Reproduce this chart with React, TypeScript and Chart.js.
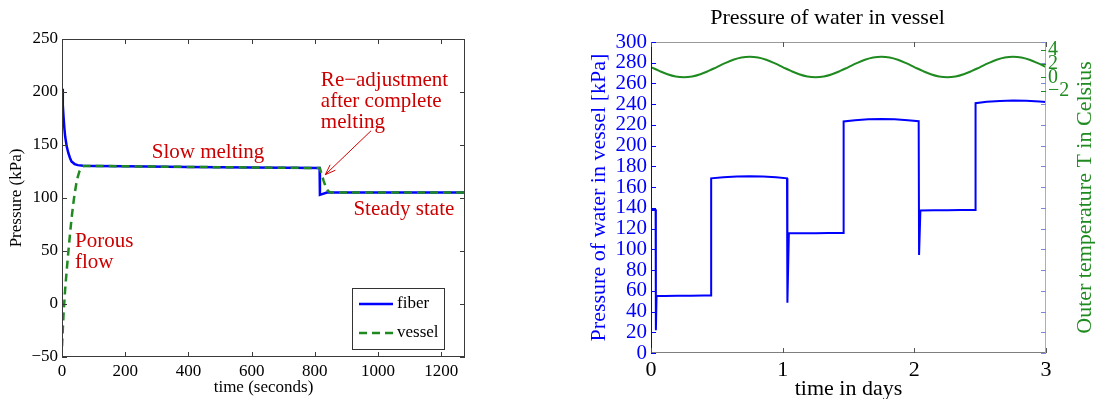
import React, { useEffect, useRef } from "react";
import { Chart, registerables } from "chart.js";

Chart.register(...registerables);

const SERIF = "'Liberation Serif', 'Times New Roman', Times, serif";
const BLUE = "#0000ff";
const GREEN = "#1f8a1f";
const RED = "#cc0000";

// ===== Left panel: pressure in fiber and vessel over time (seconds) =====
const fiberTime = [0, 2.5, 5, 7.5, 10, 15, 20, 25, 30, 40, 50, 67, 100, 200, 400, 600, 815, 816, 838, 1000, 1275];
const fiberPressure = [203, 188, 176, 166, 158, 148.5, 142.5, 138, 134.5, 132, 131, 130.5, 130.3, 129.9, 129.3, 128.8, 128.3, 103, 105.2, 105.2, 105.2];
const vesselTime = [0, 2.5, 5, 10, 15, 20, 25, 30, 35, 40, 45, 50, 55, 60, 70, 80, 100, 200, 400, 600, 815, 820, 828, 835, 842, 850, 1000, 1275];
const vesselPressure = [-40, -24, -9, 14, 32, 49, 65, 80, 93, 104, 113, 120, 125, 128, 130.2, 130.3, 130.3, 129.9, 129.3, 128.8, 128.3, 124, 116, 110, 106.5, 105.2, 105.2, 105.2];
const leftTimeTicks = [0, 200, 400, 600, 800, 1000, 1200];
const leftPressureTicks = [-50, 0, 50, 100, 150, 200, 250];
const seriesNames = ["fiber", "vessel"];
const noteLines = [["Porous", "flow"], ["Slow melting"], ["Re\u2212adjustment", "after complete", "melting"], ["Steady state"]];
const noteTime = [41, 284, 819, 922];
const notePressure = [59, 142.5, 210.5, 89];
const arrowTime = [978, 833];
const arrowPressure = [163.5, 122];

// ===== Right panel: pressure of water in vessel over days, outer temperature =====
const pressureDays = [0, 0.035, 0.037, 0.042, 0.1, 0.2, 0.3, 0.4, 0.456, 0.457, 0.55, 0.65, 0.75, 0.85, 0.95, 1.033, 1.036, 1.047, 1.15, 1.25, 1.35, 1.462, 1.463, 1.55, 1.65, 1.75, 1.85, 1.95, 2.033, 2.036, 2.046, 2.15, 2.25, 2.35, 2.464, 2.465, 2.55, 2.65, 2.75, 2.85, 2.95, 3.0];
const pressureKPa = [138, 138, 22, 55, 55, 55.2, 55.3, 55.4, 55.5, 168.5, 169.6, 170.3, 170.5, 170.3, 169.6, 168.5, 48.5, 115.5, 115.5, 115.6, 115.7, 115.8, 223.4, 224.6, 225.4, 225.7, 225.4, 224.6, 223.6, 94.5, 137.5, 137.7, 137.8, 137.9, 138, 241, 242.3, 243.1, 243.5, 243.3, 242.6, 242];
const tempDays = [
  0, 0.0625, 0.125, 0.1875, 0.25, 0.3125, 0.375, 0.4375, 0.5, 0.5625, 0.625, 0.6875, 0.75, 0.8125, 0.875, 0.9375,
  1, 1.0625, 1.125, 1.1875, 1.25, 1.3125, 1.375, 1.4375, 1.5, 1.5625, 1.625, 1.6875, 1.75, 1.8125, 1.875, 1.9375,
  2, 2.0625, 2.125, 2.1875, 2.25, 2.3125, 2.375, 2.4375, 2.5, 2.5625, 2.625, 2.6875, 2.75, 2.8125, 2.875, 2.9375, 3,
];
const tempCelsius = [
  1.5, 0.93, 0.44, 0.11, 0, 0.11, 0.44, 0.93, 1.5, 2.07, 2.56, 2.89, 3.0, 2.89, 2.56, 2.07,
  1.5, 0.93, 0.44, 0.11, 0, 0.11, 0.44, 0.93, 1.5, 2.07, 2.56, 2.89, 3.0, 2.89, 2.56, 2.07,
  1.5, 0.93, 0.44, 0.11, 0, 0.11, 0.44, 0.93, 1.5, 2.07, 2.56, 2.89, 3.0, 2.89, 2.56, 2.07, 1.5,
];
const dayTicks = [0, 1, 2, 3];
const pressureTicks = [0, 20, 40, 60, 80, 100, 120, 140, 160, 180, 200, 220, 240, 260, 280, 300];
const tempTicks = [4, 2, 0, -2];

const plain = (v: number) => String(v).replace("-", "\u2212");
const toPoints = (xs: number[], ys: number[]) => xs.map((x, i) => ({ x, y: ys[i] }));
const fixedTicks = (values: number[]) => (scale: any) => {
  scale.ticks = values.map((v) => ({ value: v }));
};
const fixWidth = (w: number) => (scale: any) => {
  scale.width = w;
  scale.paddingTop = 0;
  scale.paddingBottom = 0;
};
const fixHeight = (h: number) => (scale: any) => {
  scale.height = h;
  scale.paddingLeft = 0;
  scale.paddingRight = 0;
};

const leftDecor = {
  id: "leftDecor",
  afterDatasetsDraw(chart: any) {
    const { ctx, chartArea: a, scales } = chart;
    const x = scales.x;
    const y = scales.y;
    ctx.save();
    ctx.strokeStyle = "#3a3a3a";
    ctx.lineWidth = 1;
    ctx.strokeRect(a.left + 0.5, a.top + 0.5, a.right - a.left - 1, a.bottom - a.top - 1);
    ctx.beginPath();
    for (const v of leftTimeTicks) {
      const px = Math.round(x.getPixelForValue(v)) + 0.5;
      ctx.moveTo(px, a.bottom);
      ctx.lineTo(px, a.bottom - 5);
      ctx.moveTo(px, a.top);
      ctx.lineTo(px, a.top + 5);
    }
    for (const v of leftPressureTicks) {
      const py = Math.round(y.getPixelForValue(v)) + 0.5;
      ctx.moveTo(a.left, py);
      ctx.lineTo(a.left + 5, py);
      ctx.moveTo(a.right, py);
      ctx.lineTo(a.right - 5, py);
    }
    ctx.stroke();

    // annotations
    ctx.fillStyle = RED;
    ctx.font = `21px ${SERIF}`;
    ctx.textAlign = "left";
    ctx.textBaseline = "middle";
    noteLines.forEach((lines, i) => {
      const px = x.getPixelForValue(noteTime[i]);
      const py = y.getPixelForValue(notePressure[i]);
      lines.forEach((t, j) => ctx.fillText(t, px, py + j * 21));
    });
    const x0 = x.getPixelForValue(arrowTime[0]);
    const y0 = y.getPixelForValue(arrowPressure[0]);
    const x1 = x.getPixelForValue(arrowTime[1]);
    const y1 = y.getPixelForValue(arrowPressure[1]);
    const ang = Math.atan2(y1 - y0, x1 - x0);
    ctx.strokeStyle = RED;
    ctx.lineWidth = 1;
    ctx.beginPath();
    ctx.moveTo(x0, y0);
    ctx.lineTo(x1, y1);
    ctx.moveTo(x1 - 11 * Math.cos(ang - 0.35), y1 - 11 * Math.sin(ang - 0.35));
    ctx.lineTo(x1, y1);
    ctx.lineTo(x1 - 11 * Math.cos(ang + 0.35), y1 - 11 * Math.sin(ang + 0.35));
    ctx.stroke();

    // legend
    const bx0 = a.right - 113;
    const bx1 = a.right - 21;
    const by0 = a.bottom - 69;
    const by1 = a.bottom - 8;
    ctx.fillStyle = "#fff";
    ctx.fillRect(bx0, by0, bx1 - bx0, by1 - by0);
    ctx.strokeStyle = "#333";
    ctx.lineWidth = 1;
    ctx.strokeRect(bx0 + 0.5, by0 + 0.5, bx1 - bx0, by1 - by0);
    const rows = [by0 + 16, by0 + 45];
    const colors = [BLUE, GREEN];
    const dashes = [[], [8, 5]];
    rows.forEach((ry, i) => {
      ctx.strokeStyle = colors[i];
      ctx.lineWidth = 2.5;
      ctx.setLineDash(dashes[i]);
      ctx.beginPath();
      ctx.moveTo(bx0 + 7, ry);
      ctx.lineTo(bx0 + 41, ry);
      ctx.stroke();
      ctx.setLineDash([]);
      ctx.fillStyle = "#000";
      ctx.font = `17px ${SERIF}`;
      ctx.textBaseline = "middle";
      ctx.fillText(seriesNames[i], bx0 + 45, ry);
    });
    ctx.restore();
  },
};

const rightDecor = {
  id: "rightDecor",
  afterDatasetsDraw(chart: any) {
    const { ctx, chartArea: a, scales } = chart;
    const x = scales.x;
    const y = scales.y;
    const y2 = scales.y2;
    ctx.save();
    ctx.lineWidth = 1;
    const line = (c: string, x0: number, y0: number, x1: number, y1: number) => {
      ctx.strokeStyle = c;
      ctx.beginPath();
      ctx.moveTo(x0, y0);
      ctx.lineTo(x1, y1);
      ctx.stroke();
    };
    line("#7f7f7f", a.left, a.bottom - 0.5, a.right, a.bottom - 0.5);
    line("#9a9a9a", a.left, a.top + 0.5, a.right, a.top + 0.5);
    line("#a3acd8", a.right - 0.5, a.top, a.right - 0.5, a.bottom);
    line(BLUE, a.left + 0.5, a.top, a.left + 0.5, a.bottom);
    for (const v of pressureTicks) {
      const py = Math.round(y.getPixelForValue(v)) + 0.5;
      line(BLUE, a.left, py, a.left + 5, py);
      line("#7d88d6", a.right, py, a.right - 5, py);
    }
    for (const v of dayTicks) {
      const px = Math.round(x.getPixelForValue(v)) + 0.5;
      line("#555", px, a.bottom, px, a.bottom - 5);
      line("#555", px, a.top, px, a.top + 5);
    }
    for (const v of tempTicks) {
      const py = Math.round(y2.getPixelForValue(v)) + 0.5;
      line(GREEN, a.right, py, a.right - 5, py);
    }
    ctx.translate(a.right + 39.5, (a.top + a.bottom) / 2);
    ctx.rotate(-Math.PI / 2);
    ctx.textAlign = "center";
    ctx.textBaseline = "middle";
    ctx.fillStyle = GREEN;
    ctx.font = `22px ${SERIF}`;
    ctx.fillText("Outer temperature T in Celsius", 0, 0);
    ctx.restore();
  },
};

function leftConfig(): any {
  return {
    type: "line",
    data: {
      datasets: [
        {
          label: seriesNames[0],
          data: toPoints(fiberTime, fiberPressure),
          borderColor: BLUE,
          borderWidth: 2.5,
          pointRadius: 0,
          order: 1,
        },
        {
          label: seriesNames[1],
          data: toPoints(vesselTime, vesselPressure),
          borderColor: GREEN,
          borderWidth: 2.5,
          borderDash: [8, 5],
          pointRadius: 0,
          order: 0,
        },
      ],
    },
    options: {
      animation: false,
      responsive: false,
      devicePixelRatio: 1,
      layout: { padding: { top: 39, right: 15, bottom: 0, left: 0 } },
      plugins: { legend: { display: false }, tooltip: { enabled: false } },
      scales: {
        x: {
          type: "linear",
          min: 0,
          max: 1275,
          afterBuildTicks: fixedTicks(leftTimeTicks),
          afterFit: fixHeight(42),
          grid: { display: false, drawTicks: false },
          border: { display: false },
          ticks: { font: { family: SERIF, size: 17, lineHeight: 1.2 }, color: "#000", padding: 4.5, maxRotation: 0, autoSkip: false, callback: (v: number) => plain(v) },
          title: {
            display: true,
            text: "time (seconds)",
            font: { family: SERIF, size: 17, lineHeight: 1.2 },
            color: "#000",
            padding: { top: 0, bottom: 0.8 },
          },
        },
        y: {
          min: -50,
          max: 250,
          afterBuildTicks: fixedTicks(leftPressureTicks),
          afterFit: fixWidth(62),
          grid: { display: false, drawTicks: false },
          border: { display: false },
          ticks: { font: { family: SERIF, size: 17, lineHeight: 1.2 }, color: "#000", padding: 4, autoSkip: false, callback: (v: number) => plain(v) },
          title: {
            display: true,
            text: "Pressure (kPa)",
            font: { family: SERIF, size: 17, lineHeight: 1.2 },
            color: "#000",
            padding: { top: 6.8, bottom: 0 },
          },
        },
      },
    },
    plugins: [leftDecor],
  };
}

function rightConfig(): any {
  return {
    type: "line",
    data: {
      datasets: [
        {
          label: "Pressure of water in vessel",
          data: toPoints(pressureDays, pressureKPa),
          yAxisID: "y",
          borderColor: BLUE,
          borderWidth: 2,
          pointRadius: 0,
        },
        {
          label: "Outer temperature",
          data: toPoints(tempDays, tempCelsius),
          yAxisID: "y2",
          borderColor: GREEN,
          borderWidth: 2,
          pointRadius: 0,
          tension: 0.4,
        },
      ],
    },
    options: {
      animation: false,
      responsive: false,
      devicePixelRatio: 1,
      layout: { padding: 0 },
      plugins: {
        legend: { display: false },
        tooltip: { enabled: false },
        title: {
          display: true,
          text: "Pressure of water in vessel",
          font: { family: SERIF, size: 22, lineHeight: 1.2, weight: "normal" },
          color: "#000",
          padding: { top: 5, bottom: 10.6 },
        },
      },
      scales: {
        x: {
          type: "linear",
          min: 0,
          max: 3,
          afterBuildTicks: fixedTicks(dayTicks),
          afterFit: fixHeight(46),
          grid: { display: false, drawTicks: false },
          border: { display: false },
          ticks: { font: { family: SERIF, size: 22, lineHeight: 1.2 }, color: "#000", padding: 3.8, maxRotation: 0, autoSkip: false, callback: (v: number) => plain(v) },
          title: {
            display: true,
            text: "time in days",
            font: { family: SERIF, size: 22, lineHeight: 1.2 },
            color: "#000",
            padding: { top: 0, bottom: -3 },
          },
        },
        y: {
          position: "left",
          min: 0,
          max: 300,
          afterBuildTicks: fixedTicks(pressureTicks),
          afterFit: fixWidth(91),
          grid: { display: false, drawTicks: false },
          border: { display: false },
          ticks: { font: { family: SERIF, size: 21, lineHeight: 1.2 }, color: BLUE, padding: 4, autoSkip: false, callback: (v: number) => plain(v) },
          title: {
            display: true,
            text: "Pressure of water in vessel [kPa]",
            font: { family: SERIF, size: 22, lineHeight: 1.2 },
            color: BLUE,
            padding: { top: 25.8, bottom: 0 },
          },
        },
        y2: {
          position: "right",
          min: -40.4,
          max: 5.17,
          afterBuildTicks: fixedTicks(tempTicks),
          afterFit: fixWidth(49),
          grid: { display: false, drawTicks: false },
          border: { display: false },
          ticks: { font: { family: SERIF, size: 20, lineHeight: 1.2 }, color: GREEN, padding: 2, autoSkip: false, callback: (v: number) => plain(v) },
        },
      },
    },
    plugins: [rightDecor],
  };
}

function ChartCanvas({ makeConfig, left, width }: { makeConfig: () => any; left: number; width: number }) {
  const ref = useRef<HTMLCanvasElement>(null);
  useEffect(() => {
    const chart = new Chart(ref.current as HTMLCanvasElement, makeConfig());
    return () => chart.destroy();
  }, []);
  return (
    <canvas
      ref={ref}
      width={width}
      height={399}
      style={{ position: "absolute", left, top: 0, width, height: 399, display: "block" }}
    />
  );
}

export default function App() {
  return (
    <div style={{ position: "fixed", left: 0, top: 0, width: 1095, height: 399, background: "#fff", overflow: "hidden" }}>
      <ChartCanvas makeConfig={leftConfig} left={0} width={480} />
      <ChartCanvas makeConfig={rightConfig} left={560} width={535} />
    </div>
  );
}
